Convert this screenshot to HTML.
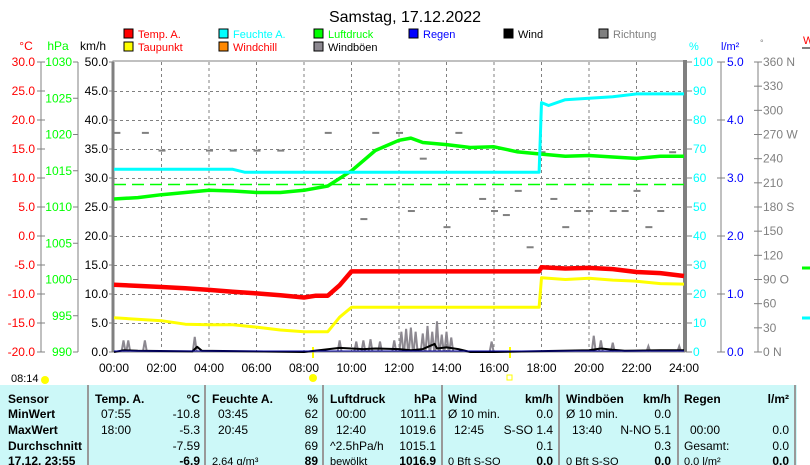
<!DOCTYPE html>
<html><head><meta charset="utf-8"><style>
body{margin:0;background:#fff;width:810px;height:465px;overflow:hidden;font-family:"Liberation Sans",sans-serif}
svg{position:absolute;left:0;top:0}
text{font-family:"Liberation Sans",sans-serif}
</style></head><body>
<svg id="chart" width="810" height="465">
<text x="405" y="22" font-size="16" text-anchor="middle">Samstag, 17.12.2022</text>
<g id="legend" font-size="11"></g>
<g id="axes" font-size="12"></g>
<g id="grid"></g>
<g id="series"></g>
<g id="table"></g>
</svg>
<script>
const NS='http://www.w3.org/2000/svg';
// ---- data ----
const tempT=[0,1,2,3,4,5,6,7,8,8.5,9,9.5,10,12,14,16,17.9,18,19,20,21,22,23,24];
const tempV=[-8.4,-8.6,-8.8,-9.0,-9.3,-9.6,-9.9,-10.2,-10.6,-10.3,-10.3,-8.5,-6.1,-6.1,-6.1,-6.1,-6.1,-5.4,-5.6,-5.5,-5.7,-6.2,-6.4,-6.9];
const dewT=[0,2,3,4,5,6,7,8,9,9.5,10,14,17.9,18,19,20,21,22,23,24];
const dewV=[-14.1,-14.6,-15.2,-15.3,-15.3,-15.7,-16.2,-16.5,-16.5,-14.0,-12.3,-12.3,-12.3,-7.2,-7.5,-7.3,-7.6,-7.8,-8.2,-8.3];
const humT=[0,5,5.5,17.9,18,18.3,19,21,22,24];
const humV=[63,63,62,62,86,85,87,88,89,89];
const presT=[0,1,2,3,4,5,6,7,8,9,10,11,12,12.5,13,14,15,16,17,18,19,20,21,22,23,24];
const presV=[1011.1,1011.3,1011.7,1012.0,1012.3,1012.2,1012.0,1012.0,1012.3,1012.9,1015.0,1017.8,1019.2,1019.5,1018.9,1018.6,1018.2,1018.3,1017.6,1017.3,1017.0,1017.1,1016.9,1016.7,1017.0,1017.0];
const gustT=[0.4,0.6,1.3,3.4,9.5,10.2,10.5,10.8,11.2,11.8,12.1,12.3,12.5,12.7,13.0,13.2,13.4,13.6,13.8,14.0,14.2,15.9,20.2,20.5,21.0,22.5,23.8];
const gustV=[2.0,2.0,2.0,2.6,2.0,1.8,2.0,2.2,1.8,2.0,3.5,4.0,4.2,3.5,3.2,4.5,3.5,5.3,3.0,3.5,2.5,1.8,2.8,2.0,1.6,1.0,1.0];
const windT=[0,0.4,1.0,3.3,3.5,3.7,8.0,9.5,10.5,11.0,12.0,12.5,13.0,13.5,13.6,14.0,14.5,15.0,16.0,20.0,20.5,21.0,21.5,23.0,24];
const windV=[0,0.3,0.2,0.1,0.9,0.2,0,0.7,0.5,0.6,0.5,0.3,0.5,1.4,0.6,0.8,0.5,0,0,0.3,0.6,0.4,0.2,0.3,0.3];
const dirT=[0.1,1.3,2.0,4.0,5.0,6.0,7.0,9.0,11.0,12.0,13.0,14.5,15.5,16.0,16.5,17.0,18.0,19.0,20.0,21.0,22.0,22.5,23.0,23.5,10.5,12.5,14.0,17.5,18.5,19.5,21.5];
const dirV=[272,272,250,250,250,250,250,272,272,272,240,272,190,175,170,200,248,155,175,175,200,155,175,248,165,175,155,130,190,175,175];
const tempTicks=[30,25,20,15,10,5,0,-5,-10,-15,-20];
const presTicks=[1030,1025,1020,1015,1010,1005,1000,995,990];
const kmhTicks=[50,45,40,35,30,25,20,15,10,5,0];
const pctTicks=[100,90,80,70,60,50,40,30,20,10,0];
const rainTicks=['5.0','4.0','3.0','2.0','1.0','0.0'];
const dirTicks=['360 N','330','300','270 W','240','210','180 S','150','120','90  O','60','30','0   N'];
const hourLabels=['00:00','02:00','04:00','06:00','08:00','10:00','12:00','14:00','16:00','18:00','20:00','22:00','24:00'];
// ---- scales ----
const X0=114,X1=684,Y0=62,Y1=352;
const xs=h=>X0+h/24*(X1-X0);
const yT=v=>Y0+(30-v)/50*(Y1-Y0);
const yP=v=>Y0+(1030-v)/40*(Y1-Y0);
const yK=v=>Y0+(50-v)/50*(Y1-Y0);
const yH=v=>Y0+(100-v)/100*(Y1-Y0);
const yD=v=>Y0+(360-v)/360*(Y1-Y0);
function el(tag,attrs,parent,txt){const e=document.createElementNS(NS,tag);for(const k in attrs)e.setAttribute(k,attrs[k]);if(txt!==undefined)e.textContent=txt;parent.appendChild(e);return e;}
const G=id=>document.getElementById(id);
// legend
const leg=[['Temp. A.','#f00','#f00',124,38],['Taupunkt','#ff0','#f00',124,51],['Feuchte A.','#0ff','#0ff',219,38],['Windchill','#f80','#f00',219,51],['Luftdruck','#0f0','#0f0',314,38],['Windböen','#8c8890','#000',314,51],['Regen','#00f','#00f',409,38],['Wind','#000','#000',504,38],['Richtung','#808080','#808080',599,38]];
leg.forEach(l=>{
 const g=el('g',{},G('legend'));
 
 
 el('rect',{x:l[3],y:l[4]-9,width:9,height:9,fill:l[1],stroke:'#000'},g);
 el('text',{x:l[3]+14,y:l[4],fill:l[2]},g,l[0]);
});
// grid
const gr=G('grid');
for(let i=1;i<10;i++)el('line',{x1:X0,x2:X1,y1:Y0+i*29+0.5,y2:Y0+i*29+0.5,stroke:'#808080','stroke-dasharray':'3,3'},gr);
for(let i=1;i<12;i++)el('line',{x1:xs(i*2),x2:xs(i*2),y1:Y0,y2:Y1,stroke:'#808080','stroke-dasharray':'3,3'},gr);
el('rect',{x:X0-1,y:Y0-1,width:X1-X0+2,height:Y1-Y0+1,fill:'none',stroke:'#808080','stroke-width':1},gr);
el('line',{x1:X0-1,x2:X0-1,y1:Y0,y2:Y1,stroke:'#808080','stroke-width':3},gr);
el('line',{x1:X1+1,x2:X1+1,y1:Y0-2,y2:Y1,stroke:'#808080','stroke-width':4},gr);
el('line',{x1:X0,x2:X1,y1:184.5,y2:184.5,stroke:'#00ff00','stroke-width':1.5,'stroke-dasharray':'12,6'},gr);
// axes
const ax=G('axes');
el('text',{x:26,y:50,fill:'#f00','text-anchor':'middle'},ax,'°C');
el('text',{x:58,y:50,fill:'#0f0','text-anchor':'middle'},ax,'hPa');
el('text',{x:93,y:50,'text-anchor':'middle'},ax,'km/h');
el('line',{x1:41,x2:41,y1:Y0,y2:Y1,stroke:'#808080'},ax);
el('line',{x1:78,x2:78,y1:Y0,y2:Y1,stroke:'#808080'},ax);
tempTicks.forEach(v=>{el('line',{x1:37,x2:45,y1:yT(v),y2:yT(v),stroke:'#808080'},ax);el('text',{x:35,y:yT(v)+4,fill:'#f00','text-anchor':'end'},ax,v.toFixed(1));});
presTicks.forEach(v=>{el('line',{x1:73,x2:78,y1:yP(v),y2:yP(v),stroke:'#808080'},ax);el('text',{x:72,y:yP(v)+4,fill:'#0f0','text-anchor':'end'},ax,v);});
kmhTicks.forEach(v=>{el('line',{x1:109,x2:113,y1:yK(v),y2:yK(v),stroke:'#808080'},ax);el('text',{x:108,y:yK(v)+4,'text-anchor':'end'},ax,v.toFixed(1));});
el('text',{x:689,y:50,fill:'#0ff','font-size':11},ax,'%');
el('text',{x:721,y:50,fill:'#00f','font-size':11},ax,'l/m²');
el('text',{x:760,y:46,fill:'#808080','font-size':9},ax,'°');
el('line',{x1:721,x2:721,y1:Y0,y2:Y1,stroke:'#808080'},ax);
el('line',{x1:758,x2:758,y1:Y0,y2:Y1,stroke:'#808080'},ax);
pctTicks.forEach(v=>{el('line',{x1:686,x2:692,y1:yH(v),y2:yH(v),stroke:'#808080'},ax);el('text',{x:693,y:yH(v)+4,fill:'#0ff'},ax,v);});
rainTicks.forEach((v,i)=>{const y=Y0+i*58;el('line',{x1:717,x2:725,y1:y,y2:y,stroke:'#808080'},ax);el('text',{x:727,y:y+4,fill:'#00f'},ax,v);});
dirTicks.forEach((v,i)=>{const y=Y0+i*(Y1-Y0)/12;el('line',{x1:754,x2:762,y1:y,y2:y,stroke:'#808080'},ax);el('text',{x:763,y:y+4,fill:'#808080','xml:space':'preserve'},ax,v);});
hourLabels.forEach((v,i)=>el('text',{x:xs(i*2),y:372,'text-anchor':'middle'},ax,v));
// right edge partial legend
el('text',{x:803,y:44,fill:'#f00','font-size':11},ax,'W');
el('line',{x1:802,x2:810,y1:48,y2:48,stroke:'#808080','stroke-width':2},ax);
el('line',{x1:802,x2:810,y1:268,y2:268,stroke:'#0f0','stroke-width':3},ax);
el('line',{x1:802,x2:810,y1:318,y2:318,stroke:'#0ff','stroke-width':3},ax);
// sun markers
el('text',{x:11,y:382,'font-size':11},ax,'08:14');
el('circle',{cx:45,cy:380,r:4,fill:'#ff0'},ax);
el('circle',{cx:313,cy:378,r:4,fill:'#ff0'},ax);
el('line',{x1:313,x2:313,y1:347,y2:358,stroke:'#ff0','stroke-width':2},ax);
el('line',{x1:510,x2:510,y1:347,y2:358,stroke:'#ff0','stroke-width':2},ax);
el('rect',{x:507,y:375,width:5,height:5,fill:'none',stroke:'#ff0'},ax);
// series
const se=G('series');
function stepLine(T,V,ys,color,w,name){
 let d='';for(let i=0;i<T.length;i++){d+=(i?'L':'M')+xs(T[i]).toFixed(1)+','+ys(V[i]).toFixed(1);}
 const p=el('path',{d:d,fill:'none',stroke:color,'stroke-width':w,'stroke-linejoin':'round'},se);
 
 
}
dirT.forEach((t,i)=>{const r=el('rect',{x:xs(t)-3,y:yD(dirV[i])-1,width:7,height:2,fill:'#808080'},se);
 
 });
stepLine(presT,presV,yP,'#0f0',3.5,'pressure-line');
stepLine(humT,humV,yH,'#0ff',3,'humidity-line');
stepLine(tempT,tempV,yT,'#f00',4.5,'temperature-line');
stepLine(dewT,dewV,yT,'#ff0',3,'dewpoint-line');
gustT.forEach((t,i)=>{const p=el('path',{d:'M'+(xs(t)-2)+','+Y1+'L'+xs(t)+','+yK(gustV[i])+'L'+(xs(t)+2)+','+Y1,fill:'none',stroke:'#8c8890','stroke-width':2},se);
 
 });
stepLine(windT,windV,yK,'#000',2,'wind-line');
el('line',{x1:X0,x2:X1,y1:Y1-1,y2:Y1-1,stroke:'#00a','stroke-width':1},se);
// table
const tb=G('table');
el('rect',{x:0,y:385,width:810,height:80,fill:'#ccf8f8'},tb);
[88,205,323,442,559,678,795].forEach(x=>el('line',{x1:x,x2:x,y1:385,y2:465,stroke:'#999','stroke-width':2},tb));
el('rect',{x:797,y:385,width:13,height:80,fill:'#fff'},tb);
const rows=[399,414,430,446,461];
const lbl=['Sensor','MinWert','MaxWert','Durchschnitt','17.12. 23:55'];
lbl.forEach((t,i)=>el('text',{x:8,y:rows[i]+4,'font-size':12,'font-weight':'bold'},tb,t));
const cols=[
 [95,200,['Temp. A.','°C'],[['07:55','-10.8'],['18:00','-5.3'],['','-7.59'],['','-6.9']]],
 [212,318,['Feuchte A.','%'],[['03:45','62'],['20:45','89'],['','69'],['2.64 g/m³','89']]],
 [330,436,['Luftdruck','hPa'],[['00:00','1011.1'],['12:40','1019.6'],['^2.5hPa/h','1015.1'],['bewölkt','1016.9']]],
 [448,553,['Wind','km/h'],[['Ø 10 min.','0.0'],['12:45','S-SO 1.4'],['','0.1'],['0 Bft S-SO','0.0']]],
 [566,671,['Windböen','km/h'],[['Ø 10 min.','0.0'],['13:40','N-NO 5.1'],['','0.3'],['0 Bft S-SO','0.0']]],
 [684,789,['Regen','l/m²'],[['',''],['00:00','0.0'],['Gesamt:','0.0'],['0.0 l/m²','0.0']]]
];
cols.forEach(c=>{
 el('text',{x:c[0],y:rows[0]+4,'font-size':12,'font-weight':'bold'},tb,c[2][0]);
 el('text',{x:c[1],y:rows[0]+4,'font-size':12,'font-weight':'bold','text-anchor':'end'},tb,c[2][1]);
 c[3].forEach((r,i)=>{const b=i==3;
  el('text',{x:c[0]+(r[0].match(/^\d\d:/)?6:0),y:rows[i+1]+4,'font-size':b?11:12},tb,r[0]);
  el('text',{x:c[1],y:rows[i+1]+4,'font-size':12,'font-weight':b?'bold':'normal','text-anchor':'end'},tb,r[1]);});
});
</script>
</body></html>
